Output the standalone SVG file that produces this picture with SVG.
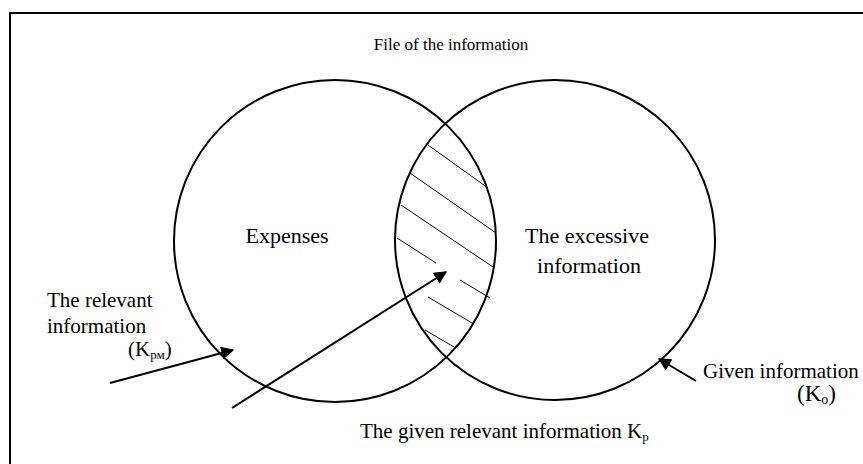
<svg xmlns="http://www.w3.org/2000/svg" width="863" height="464" viewBox="0 0 863 464">
<defs>
<style>
.t{font-family:"Liberation Serif","Times New Roman",serif;font-size:21px;fill:#000}
.ti{font-size:17px}
.big{font-size:22px}
.s{font-size:13px}
.c{fill:none;stroke:#000;stroke-width:2}
.h{stroke:#000;stroke-width:1;fill:none}
.a{stroke:#000;stroke-width:2;fill:none;marker-end:url(#ah)}
</style>
<marker id="ah" viewBox="0 0 10 10" refX="9" refY="5" markerWidth="6.5" markerHeight="6.5" markerUnits="strokeWidth" orient="auto">
<path d="M0,0 L10,5 L0,10 z" fill="#000"/>
</marker>
</defs>
<rect x="0" y="0" width="863" height="464" fill="#fff"/>
<rect id="frame" x="10" y="13" width="900" height="500" fill="none" stroke="#000" stroke-width="2"/>
<text id="title" class="t ti" x="451" y="50" text-anchor="middle">File of the information</text>
<g id="left-circle">
<circle class="c" cx="335" cy="241" r="161"/>
<text class="t big" x="287" y="243" text-anchor="middle">Expenses</text>
</g>
<g id="right-circle">
<circle class="c" cx="555" cy="240" r="160"/>
<text class="t big" x="587" y="243" text-anchor="middle">The excessive</text>
<text class="t big" x="589" y="273" text-anchor="middle">information</text>
</g>
<g id="hatch">
<line class="h" x1="428" y1="145" x2="488" y2="188"/>
<line class="h" x1="410" y1="173" x2="496" y2="233"/>
<line class="h" x1="401" y1="205" x2="493" y2="267"/>
<line class="h" x1="397" y1="238" x2="436" y2="263"/>
<line class="h" x1="460" y1="280" x2="490" y2="298"/>
<line class="h" x1="428" y1="297" x2="472" y2="323"/>
<line class="h" x1="425" y1="330" x2="454" y2="347"/>
</g>
<g id="label-relevant">
<text class="t" x="47" y="307">The relevant</text>
<text class="t" x="47" y="333">information</text>
<text class="t" x="128" y="356">(K<tspan class="s" dy="3">рм</tspan><tspan dy="-3">)</tspan></text>
</g>
<g id="label-given">
<text class="t" x="703" y="378">Given information</text>
<text class="t" x="797" y="401" style="font-size:23px">(K<tspan style="font-size:14px" dy="3">o</tspan><tspan dy="-3">)</tspan></text>
</g>
<g id="label-given-relevant">
<text class="t" x="360" y="438">The given relevant information K<tspan class="s" dy="3">p</tspan></text>
</g>
<g id="connectors">
<line class="a" x1="110" y1="383" x2="233" y2="350"/>
<line class="a" x1="232" y1="408" x2="446" y2="272"/>
<line class="a" x1="696" y1="381" x2="659" y2="359"/>
</g>
</svg>
